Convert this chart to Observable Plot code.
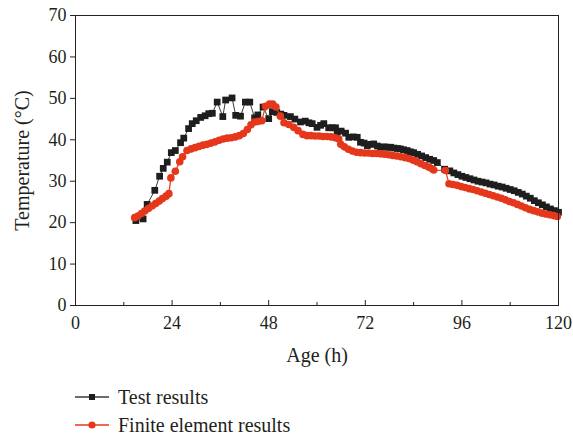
<!DOCTYPE html>
<html>
<head>
<meta charset="utf-8">
<script src="https://cdn.jsdelivr.net/npm/d3@7"></script>
<script src="https://cdn.jsdelivr.net/npm/@observablehq/plot@0.6"></script>
<style>
  body { margin: 0; background: #fff; font-family: "Liberation Serif", "Times New Roman", serif; color: #231f20; }
  #legend { padding-top: 8px; margin-left: 75px; font-size: 20px; }
  #legend .row { display: flex; align-items: center; height: 28px; }
  #legend svg { margin-right: 9px; }
</style>
</head>
<body>
<div id="chart"></div>
<div id="legend"></div>
<script>
// Hydration temperature of the concrete vs. age: measured and finite element model
const testAge = [15.0, 16.8, 17.8, 19.7, 20.9, 21.8, 22.8, 23.8, 24.8, 26.1, 26.9, 28.1, 29.0, 30.0, 31.1, 32.2, 33.1, 34.0,
  35.2, 36.6, 37.3, 38.9, 39.8, 41.0, 42.2, 43.3, 44.5, 45.3, 46.6, 48.0, 48.9, 50.0, 51.0, 51.8, 53.4, 54.5, 55.9, 57.1,
  58.0, 58.8, 60.0, 60.9, 61.7, 62.9, 63.8, 64.6, 65.0, 66.0, 67.1, 67.9, 69.0, 70.0, 70.8, 71.7, 72.5, 73.3, 74.1, 75.0,
  75.8, 76.7, 77.5, 78.3, 79.1, 80.0, 80.7, 81.5, 82.4, 83.2, 84.0, 85.0, 86.0, 87.0, 88.0, 89.0, 89.9, 91.7, 93.0, 94.0,
  95.0, 96.0, 97.0, 98.0, 99.0, 100.0, 101.0, 102.0, 103.0, 104.0, 105.0, 106.0, 107.0, 108.0, 109.0, 110.0, 111.0, 112.0,
  113.0, 114.0, 115.0, 116.0, 117.0, 118.0, 119.0, 120.0];
const testTemp = [20.5, 20.9, 24.4, 27.8, 31.2, 33.1, 34.6, 36.9, 37.4, 39.3, 40.4, 42.7, 43.9, 44.6, 45.4, 45.8, 46.3, 46.4,
  49.1, 45.6, 49.6, 50.1, 45.9, 45.7, 49.1, 49.1, 45.3, 46.0, 47.9, 45.1, 46.8, 46.6, 46.2, 45.9, 45.6, 45.0, 44.3, 44.5,
  44.1, 43.9, 43.0, 43.5, 43.9, 42.9, 42.9, 42.9, 41.8, 42.1, 41.6, 40.6, 40.7, 40.6, 39.4, 39.2, 38.6, 38.9, 39.0, 38.5,
  38.2, 38.3, 38.2, 38.2, 38.0, 37.9, 37.8, 37.6, 37.4, 37.1, 36.9, 36.5, 36.1, 35.7, 35.3, 35.0, 34.5, 32.9, 32.5, 32.0,
  31.6, 31.2, 30.9, 30.6, 30.3, 30.0, 29.8, 29.6, 29.3, 29.1, 28.8, 28.6, 28.3, 28.0, 27.7, 27.3, 26.9, 26.4,
  25.9, 25.3, 24.8, 24.3, 23.8, 23.3, 22.9, 22.5];

const feAge = [14.7, 15.5, 16.4, 17.2, 18.1, 19.0, 19.9, 20.8, 21.6, 22.5, 23.2, 23.7, 24.8, 25.9, 26.6, 27.7, 28.7, 29.7,
  30.7, 31.7, 32.7, 33.7, 34.7, 35.7, 36.7, 37.7, 38.7, 39.7, 40.7, 41.7, 42.7, 43.6, 44.5, 45.3, 46.3, 47.2, 48.2, 49.0,
  49.8, 50.9, 51.8, 53.0, 54.2, 55.3, 56.5, 57.5, 58.5, 59.5, 60.5, 61.5, 62.5, 63.5, 64.5, 65.4, 65.9, 66.8, 67.8, 68.8,
  69.8, 70.8, 71.8, 72.8, 73.8, 74.8, 75.8, 76.8, 77.8, 78.8, 79.8, 80.8, 81.8, 82.8, 83.8, 84.8, 85.8, 86.8, 87.8, 88.6,
  89.0, 91.9, 92.8, 93.8, 94.8, 95.8, 96.8, 97.8, 98.8, 99.8, 100.8, 101.8, 102.8, 103.8, 104.8, 105.8, 106.8, 107.8,
  108.8, 109.8, 110.8, 111.8, 112.8, 113.8, 114.8, 115.8, 116.8, 117.8, 118.8, 119.7];
const feTemp = [21.2, 21.6, 22.2, 22.8, 23.4, 24.0, 24.6, 25.2, 25.8, 26.4, 27.0, 30.8, 32.4, 34.7, 35.9, 37.4, 37.8, 38.1,
  38.4, 38.7, 38.9, 39.2, 39.5, 39.9, 40.2, 40.4, 40.5, 40.7, 41.0, 41.5, 42.5, 43.6, 44.3, 44.4, 44.6, 48.1, 48.6, 48.6,
  47.9, 45.7, 44.1, 43.7, 43.0, 42.2, 41.3, 41.0, 41.0, 40.9, 40.9, 40.8, 40.8, 40.7, 40.5, 40.2, 38.9, 38.3, 37.7, 37.3,
  37.0, 36.9, 36.8, 36.8, 36.7, 36.7, 36.6, 36.5, 36.4, 36.2, 36.1, 35.9, 35.7, 35.5, 35.1, 34.7, 34.2, 33.8, 33.4, 33.0,
  32.7, 32.6, 29.4, 29.2, 29.0, 28.7, 28.5, 28.2, 28.0, 27.7, 27.4, 27.1, 26.8, 26.5, 26.2, 25.9, 25.5, 25.1,
  24.8, 24.4, 24.0, 23.6, 23.2, 22.9, 22.6, 22.3, 22.1, 21.9, 21.7, 21.5];

const seriesNames = ["Test results", "Finite element results"];
const xMajorTicks = [0, 24, 48, 72, 96, 120];
const xMinorTicks = [12, 36, 60, 84, 108];
const yTicks = [0, 10, 20, 30, 40, 50, 60, 70];

const testColor = "#1e1e1e";
const testLine = "#3a3a3a";
const feColor = "#e5371c";

const test = testAge.map((age, i) => ({age, temp: testTemp[i]}));
const fe = feAge.map((age, i) => ({age, temp: feTemp[i]}));

const chart = Plot.plot({
  width: 573,
  height: 375,
  marginTop: 15,
  marginRight: 15,
  marginBottom: 70,
  marginLeft: 75,
  style: {fontFamily: '"Liberation Serif", "Times New Roman", serif', fontSize: "18px", color: "#231f20", background: "#fff"},
  x: {domain: [0, 120]},
  y: {domain: [0, 70]},
  marks: [
    Plot.axisX(xMajorTicks, {tickSize: 0, tickPadding: 11, label: null, fontSize: 18}),
    Plot.axisX(xMajorTicks, {tickSize: -5, text: null, label: null, stroke: "#222"}),
    Plot.axisX(xMinorTicks, {tickSize: -3, text: null, label: null, stroke: "#222"}),
    Plot.axisY(yTicks, {tickSize: 5, tickPadding: 4, label: null, fontSize: 18, stroke: "#222"}),
    Plot.line(test, {x: "age", y: "temp", stroke: testLine, strokeWidth: 1}),
    Plot.dot(test, {x: "age", y: "temp", symbol: "square", r: 3.8, fill: testColor, stroke: null}),
    Plot.line(fe, {x: "age", y: "temp", stroke: feColor, strokeWidth: 1.2}),
    Plot.dot(fe, {x: "age", y: "temp", symbol: "circle", r: 3.8, fill: feColor, stroke: null}),
    Plot.frame({stroke: "#222", strokeWidth: 1}),
    Plot.text(["Temperature (°C)"], {frameAnchor: "left", textAnchor: "middle", lineAnchor: "middle", dx: -53, rotate: -90, fontSize: 20, fill: "#231f20"}),
    Plot.text(["Age (h)"], {frameAnchor: "bottom", textAnchor: "middle", lineAnchor: "middle", dy: 50, fontSize: 20, fill: "#231f20"})
  ]
});
document.getElementById("chart").append(chart);

// Legend below the chart: a line sample with the series marker, then the name
const legend = d3.select("#legend");
const legendStyles = [
  {stroke: testLine, fill: testColor, symbol: "square"},
  {stroke: feColor, fill: feColor, symbol: "circle"}
];
seriesNames.forEach((name, i) => {
  const s = legendStyles[i];
  const row = legend.append("div").attr("class", "row");
  const svg = row.append("svg").attr("width", 34).attr("height", 12);
  svg.append("line").attr("x1", 0).attr("x2", 34).attr("y1", 6).attr("y2", 6)
    .attr("stroke", s.stroke).attr("stroke-width", 1.6);
  if (s.symbol === "square") {
    svg.append("rect").attr("x", 14).attr("y", 3).attr("width", 6).attr("height", 6).attr("fill", s.fill);
  } else {
    svg.append("circle").attr("cx", 17).attr("cy", 6).attr("r", 3.6).attr("fill", s.fill);
  }
  row.append("span").text(name);
});
</script>
</body>
</html>
